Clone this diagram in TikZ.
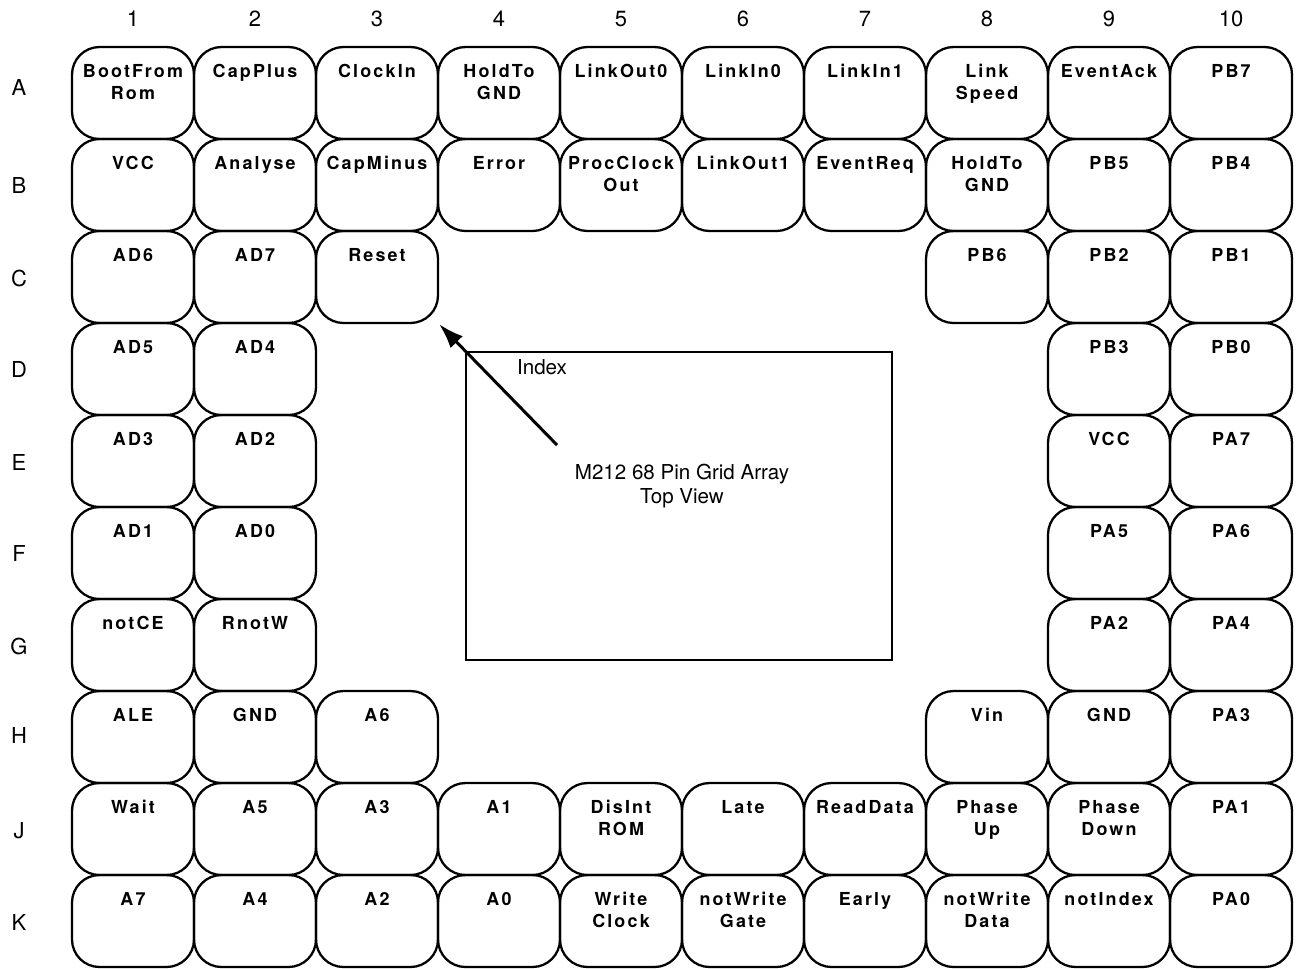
\documentclass[tikz,border=0pt]{standalone}
\usepackage{fontspec}
\setmainfont{TeX Gyre Heros}
\newfontfamily\pinfont[LetterSpace=12]{TeX Gyre Heros}
\usetikzlibrary{arrows.meta}

\tikzset{
  pinbox/.style={draw, line width=1.3pt, rounded corners=0.55cm, inner sep=0pt,
    minimum width=2.44cm, minimum height=1.84cm,
    text height=0.6cm, text depth=1.24cm, align=center,
    font=\pinfont\bfseries\fontsize{10.2}{13}\selectfont},
  pintwo/.style={pinbox, text height=1.0586cm, text depth=0.7814cm},
  gridlabel/.style={font=\fontsize{12.5}{14}\selectfont},
  chiptext/.style={font=\fontsize{11.7}{14}\selectfont, align=center},
}

\begin{document}
\begin{tikzpicture}[x=0.02cm, y=-0.02cm]
    \useasboundingbox (0,0) rectangle (1300,968);

    % Colunas
    \node[gridlabel] (n1) at (133,19) {1};
    \node[gridlabel] (n2) at (255,19) {2};
    \node[gridlabel] (n3) at (377,19) {3};
    \node[gridlabel] (n4) at (499,19) {4};
    \node[gridlabel] (n5) at (621,19) {5};
    \node[gridlabel] (n6) at (743,19) {6};
    \node[gridlabel] (n7) at (865,19) {7};
    \node[gridlabel] (n8) at (987,19) {8};
    \node[gridlabel] (n9) at (1109,19) {9};
    \node[gridlabel] (n10) at (1231,19) {10};

    % Linhas
    \node[gridlabel] (rA) at (19,87) {A};
    \node[gridlabel] (rB) at (19,185) {B};
    \node[gridlabel] (rC) at (19,278) {C};
    \node[gridlabel] (rD) at (19,369) {D};
    \node[gridlabel] (rE) at (19,462) {E};
    \node[gridlabel] (rF) at (19,553) {F};
    \node[gridlabel] (rG) at (19,646) {G};
    \node[gridlabel] (rH) at (19,735) {H};
    \node[gridlabel] (rJ) at (19,831) {J};
    \node[gridlabel] (rK) at (19,922) {K};

    % Linha A
    \node[pintwo] (A1) at (133,93) {BootFrom\\Rom};
    \node[pinbox] (A2) at (255,93) {CapPlus};
    \node[pinbox] (A3) at (377,93) {ClockIn};
    \node[pintwo] (A4) at (499,93) {HoldTo\\GND};
    \node[pinbox] (A5) at (621,93) {LinkOut0};
    \node[pinbox] (A6) at (743,93) {LinkIn0};
    \node[pinbox] (A7) at (865,93) {LinkIn1};
    \node[pintwo] (A8) at (987,93) {Link\\Speed};
    \node[pinbox] (A9) at (1109,93) {EventAck};
    \node[pinbox] (A10) at (1231,93) {PB7};

    % Linha B
    \node[pinbox] (B1) at (133,185) {VCC};
    \node[pinbox] (B2) at (255,185) {Analyse};
    \node[pinbox] (B3) at (377,185) {CapMinus};
    \node[pinbox] (B4) at (499,185) {Error};
    \node[pintwo] (B5) at (621,185) {ProcClock\\Out};
    \node[pinbox] (B6) at (743,185) {LinkOut1};
    \node[pinbox] (B7) at (865,185) {EventReq};
    \node[pintwo] (B8) at (987,185) {HoldTo\\GND};
    \node[pinbox] (B9) at (1109,185) {PB5};
    \node[pinbox] (B10) at (1231,185) {PB4};

    % Linha C
    \node[pinbox] (C1) at (133,277) {AD6};
    \node[pinbox] (C2) at (255,277) {AD7};
    \node[pinbox] (C3) at (377,277) {Reset};
    \node[pinbox] (C8) at (987,277) {PB6};
    \node[pinbox] (C9) at (1109,277) {PB2};
    \node[pinbox] (C10) at (1231,277) {PB1};

    % Linhas D a G
    \node[pinbox] (D1) at (133,369) {AD5};
    \node[pinbox] (D2) at (255,369) {AD4};
    \node[pinbox] (D9) at (1109,369) {PB3};
    \node[pinbox] (D10) at (1231,369) {PB0};
    \node[pinbox] (E1) at (133,461) {AD3};
    \node[pinbox] (E2) at (255,461) {AD2};
    \node[pinbox] (E9) at (1109,461) {VCC};
    \node[pinbox] (E10) at (1231,461) {PA7};
    \node[pinbox] (F1) at (133,553) {AD1};
    \node[pinbox] (F2) at (255,553) {AD0};
    \node[pinbox] (F9) at (1109,553) {PA5};
    \node[pinbox] (F10) at (1231,553) {PA6};
    \node[pinbox] (G1) at (133,645) {notCE};
    \node[pinbox] (G2) at (255,645) {RnotW};
    \node[pinbox] (G9) at (1109,645) {PA2};
    \node[pinbox] (G10) at (1231,645) {PA4};

    % Linha H
    \node[pinbox] (H1) at (133,737) {ALE};
    \node[pinbox] (H2) at (255,737) {GND};
    \node[pinbox] (H3) at (377,737) {A6};
    \node[pinbox] (H8) at (987,737) {Vin};
    \node[pinbox] (H9) at (1109,737) {GND};
    \node[pinbox] (H10) at (1231,737) {PA3};

    % Linha J
    \node[pinbox] (J1) at (133,829) {Wait};
    \node[pinbox] (J2) at (255,829) {A5};
    \node[pinbox] (J3) at (377,829) {A3};
    \node[pinbox] (J4) at (499,829) {A1};
    \node[pintwo] (J5) at (621,829) {DisInt\\ROM};
    \node[pinbox] (J6) at (743,829) {Late};
    \node[pinbox] (J7) at (865,829) {ReadData};
    \node[pintwo] (J8) at (987,829) {Phase\\Up};
    \node[pintwo] (J9) at (1109,829) {Phase\\Down};
    \node[pinbox] (J10) at (1231,829) {PA1};

    % Linha K
    \node[pinbox] (K1) at (133,921) {A7};
    \node[pinbox] (K2) at (255,921) {A4};
    \node[pinbox] (K3) at (377,921) {A2};
    \node[pinbox] (K4) at (499,921) {A0};
    \node[pintwo] (K5) at (621,921) {Write\\Clock};
    \node[pintwo] (K6) at (743,921) {notWrite\\Gate};
    \node[pinbox] (K7) at (865,921) {Early};
    \node[pintwo] (K8) at (987,921) {notWrite\\Data};
    \node[pinbox] (K9) at (1109,921) {notIndex};
    \node[pinbox] (K10) at (1231,921) {PA0};

    % Chip
    \node[draw, line width=1.1pt, minimum width=8.52cm, minimum height=6.16cm] (chip) at (679,506) {};
    \node[chiptext] (index) at (542,367) {Index};
    \node[chiptext] (title) at (682,486) {M212 68 Pin Grid Array\\Top View};

    % Seta
    \coordinate (tail) at (557,445);
    \draw[line width=1.7pt, -{Latex[length=0.5cm, width=0.34cm]}] (tail) -- (C3.south east);
\end{tikzpicture}
\end{document}
